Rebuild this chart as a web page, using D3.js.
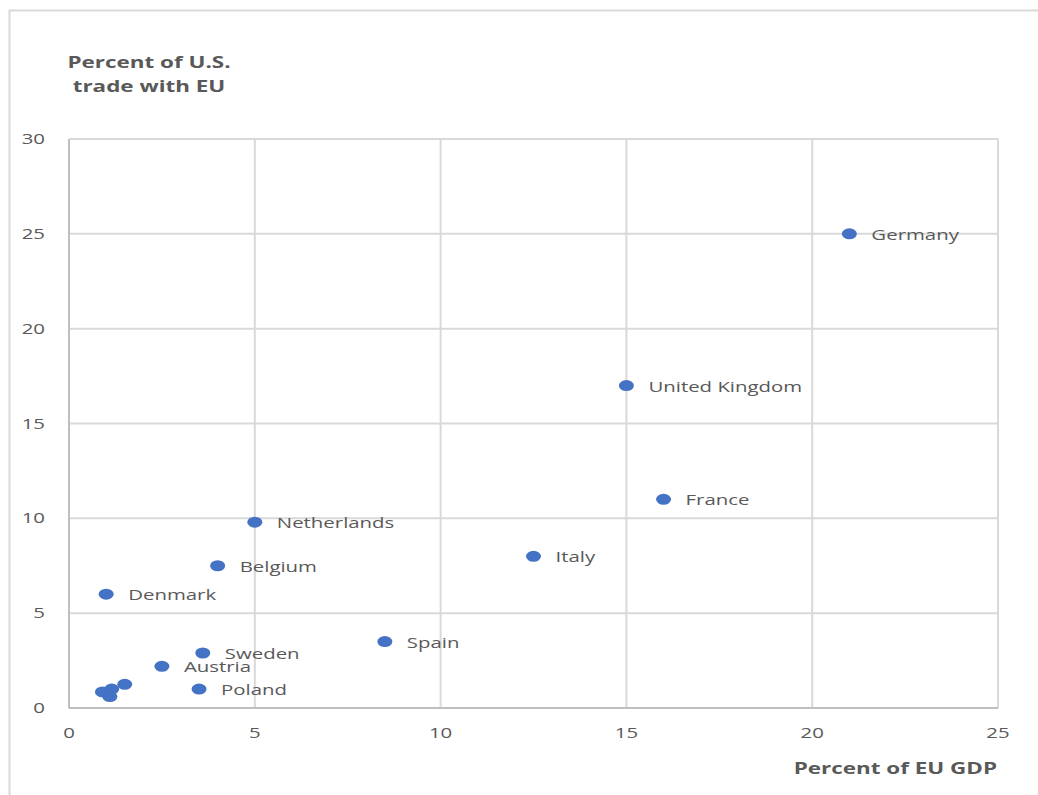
<!DOCTYPE html>
<html><head><meta charset="utf-8">
<script src="https://cdn.jsdelivr.net/npm/d3@7"></script>
<style>body{margin:0;background:#fff}</style>
</head><body>
<svg id="c" width="1038" height="795"></svg>
<script>
const countries = ["Germany","United Kingdom","France","Netherlands","Italy","Belgium","Denmark","Spain","Sweden","Austria","Poland","","","",""];
const gdpShare  = [21, 15, 16, 5, 12.5, 4, 1, 8.5, 3.6, 2.5, 3.5, 0.9, 1.15, 1.5, 1.1];
const tradeShare= [25, 17, 11, 9.8, 8, 7.5, 6, 3.5, 2.9, 2.2, 1.0, 0.85, 1.0, 1.25, 0.6];
const xTicks = [0,5,10,15,20,25];
const yTicks = [0,5,10,15,20,25,30];

const SX = 1.36;
const svg = d3.select("#c");
const x = d3.scaleLinear().domain([0,25]).range([69,998]);
const y = d3.scaleLinear().domain([0,30]).range([708,139]);
const grey = "#595959", grid = "#d9d9d9";

// outer frame
svg.append("path").attr("d","M9.5,795 V10.5 H1038").attr("fill","none").attr("stroke","#d9d9d9").attr("stroke-width",2);

function txt(px, py, s, o={}) {
  return svg.append("text").attr("transform",`translate(${px},${py}) scale(${SX},1)`)
    .attr("font-family","'Open Sans', sans-serif").attr("font-size",o.size||14)
    .attr("font-weight",o.bold?"bold":"normal").attr("fill",grey)
    .attr("text-anchor",o.anchor||"start").text(s);
}

// grid
svg.append("g").selectAll("line").data(xTicks).join("line")
  .attr("x1",d=>x(d)).attr("x2",d=>x(d)).attr("y1",y(30)).attr("y2",y(0))
  .attr("stroke",grid).attr("stroke-width",2);
svg.append("g").selectAll("line").data(yTicks).join("line")
  .attr("x1",x(0)).attr("x2",x(25)).attr("y1",d=>y(d)).attr("y2",d=>y(d))
  .attr("stroke",grid).attr("stroke-width",2);
// axes lines
svg.append("line").attr("x1",x(0)).attr("x2",x(0)).attr("y1",y(30)).attr("y2",y(0)).attr("stroke","#bfbfbf").attr("stroke-width",2);
svg.append("line").attr("x1",x(0)).attr("x2",x(25)).attr("y1",y(0)).attr("y2",y(0)).attr("stroke","#bfbfbf").attr("stroke-width",2);

// tick labels
xTicks.forEach(t=>txt(x(t), 738, String(t), {size:15, anchor:"middle"}));
yTicks.forEach(t=>txt(45, y(t)+5, String(t), {size:15, anchor:"end"}));

// axis titles
txt(149, 68, "Percent of U.S.", {size:16.5, bold:true, anchor:"middle"});
txt(149, 92, "trade with EU", {size:16.5, bold:true, anchor:"middle"});
txt(997, 774, "Percent of EU GDP", {size:16.5, bold:true, anchor:"end"});

// points
const data = countries.map((c,i)=>({c, gx:gdpShare[i], ty:tradeShare[i]}));
svg.append("g").selectAll("ellipse").data(data).join("ellipse")
  .attr("cx",d=>x(d.gx)).attr("cy",d=>y(d.ty)).attr("rx",7.5).attr("ry",5.5)
  .attr("fill","#4472c4");
data.filter(d=>d.c).forEach(d=>txt(x(d.gx)+22, y(d.ty)+6, d.c, {size:15}));
</script>
</body></html>
